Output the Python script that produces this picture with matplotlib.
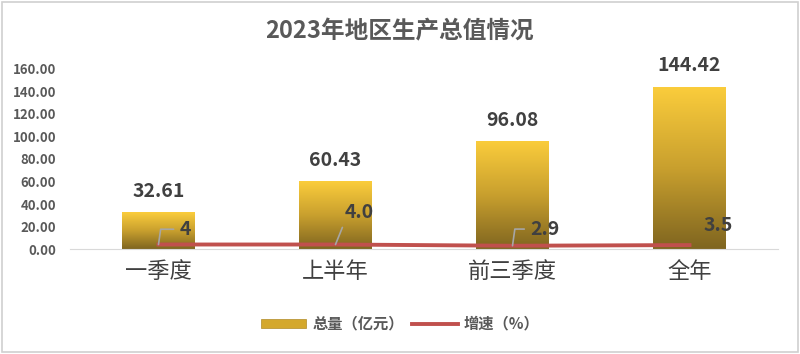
import numpy as np
import matplotlib
matplotlib.use('Agg')
import matplotlib.pyplot as plt
from matplotlib.patches import Rectangle
from matplotlib.colors import LinearSegmentedColormap
from matplotlib.legend_handler import HandlerPatch

plt.rcParams['font.family'] = ['Noto Sans CJK SC', 'DejaVu Sans']

### DATA ###
title = '2023年地区生产总值情况'
categories = ['一季度', '上半年', '前三季度', '全年']
totals = [32.61, 60.43, 96.08, 144.42]
growth = [4, 4.0, 2.9, 3.5]
growth_labels = ['4', '4.0', '2.9', '3.5']
bar_name = '总量（亿元）'
line_name = '增速（%）'

### STYLE ###
grad = LinearSegmentedColormap.from_list('gold', ['#7f6520', '#c9a02e', '#fbcd3c'])
text_col = '#404040'
line_col = '#c0504d'
# label offsets in points (dx, dy) and leader style for each growth label
lab_off = [(19, 11), (17, 23), (23, 12), (21, 14)]
leader = ['angle,angleA=0,angleB=82,rad=0', 'arc3,rad=0',
          'angle,angleA=0,angleB=82,rad=0', None]

fig = plt.figure(figsize=(8, 3.54), dpi=100)
fig.patches.append(Rectangle((0.003, 0.006), 0.994, 0.988, transform=fig.transFigure,
                             fill=False, edgecolor='#d0d0d0', lw=1.2))
ax = fig.add_axes([0.0875, 0.2966, 0.885, 0.5085])

x = np.arange(len(categories))
bars = ax.bar(x, totals, width=0.41, color='none', edgecolor='none', zorder=2)
for b in bars:
    im = ax.imshow(np.linspace(1, 0, 256).reshape(-1, 1), cmap=grad, aspect='auto',
                   extent=[b.get_x(), b.get_x() + b.get_width(), 0, b.get_height()],
                   zorder=2)
    im.set_clip_path(b)
ax.set_xlim(-0.5, len(categories) - 0.5)
ax.set_ylim(0, 160)

for xi, v in zip(x, totals):
    ax.annotate(f'{v:.2f}', (xi, v), xytext=(0, 8), textcoords='offset points',
                ha='center', va='bottom', fontsize=14, fontweight='bold', color=text_col)

ax.plot(x, growth, color=line_col, lw=2.8, zorder=3)
for xi, v, lab, off, ld in zip(x, growth, growth_labels, lab_off, leader):
    ap = None
    if ld:
        ap = dict(arrowstyle='-', color='#a6a6a6', lw=1.2, shrinkA=2, shrinkB=0,
                  connectionstyle=ld, relpos=(0, 0.5) if ld.startswith('angle') else (0, 0))
    ax.annotate(lab, (xi, v), xytext=off, textcoords='offset points', ha='center',
                va='center', fontsize=14, fontweight='bold', color=text_col,
                arrowprops=ap, zorder=4)

ax.set_yticks(np.arange(0, 161, 20))
ax.set_yticklabels([f'{t:.2f}' for t in np.arange(0, 161, 20)])
ax.set_xticks(x)
ax.set_xticklabels(categories, fontsize=16, color=text_col)
ax.tick_params(axis='y', length=0, labelsize=9.5, labelcolor='#595959', pad=10)
ax.tick_params(axis='x', length=0, pad=8)
for t in ax.get_yticklabels():
    t.set_fontweight('bold')
for s in ['left', 'right', 'top']:
    ax.spines[s].set_visible(False)
ax.spines['bottom'].set_color('#d9d9d9')

fig.text(0.5, 0.912, title, ha='center', va='center', fontsize=17, fontweight='bold',
         color='#595959')


class GradHandler(HandlerPatch):
    def create_artists(self, legend, orig, xd, yd, w, h, fs, trans):
        r = Rectangle((-xd, -yd), w, h, transform=trans, facecolor='#d4a82c',
                      edgecolor='#b08a25', lw=0.5)
        return [r]


h_bar = Rectangle((0, 0), 1, 1)
h_line, = ax.plot([], [], color=line_col, lw=2.8)
fig.legend([h_bar, h_line], [bar_name, line_name], loc='center',
           bbox_to_anchor=(0.5, 0.085), ncol=2, frameon=False, handlelength=3.0,
           handleheight=0.6, columnspacing=0.5, handletextpad=0.4,
           prop={'size': 11, 'weight': 'bold'}, labelcolor='#595959',
           handler_map={Rectangle: GradHandler()})

fig.savefig('out.png', dpi=100)
